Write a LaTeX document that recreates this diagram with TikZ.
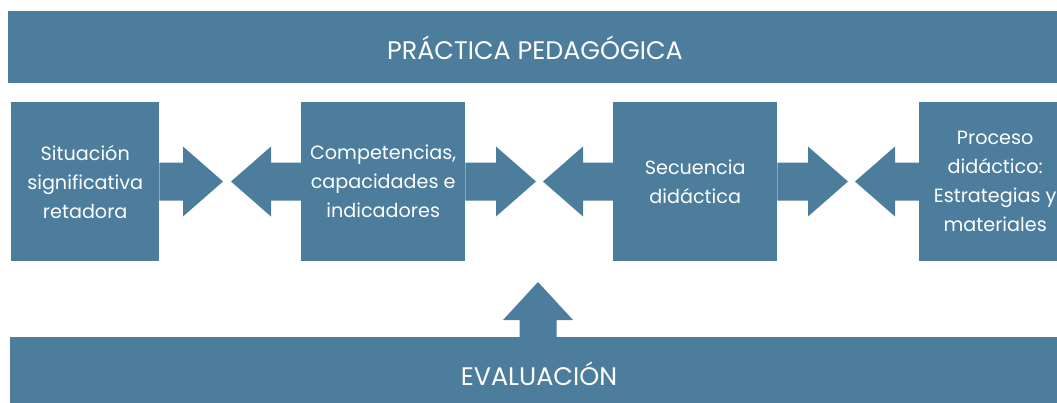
\documentclass[tikz,border=0pt]{standalone}
\usepackage{fontspec}
\setmainfont{Poppins}
\usetikzlibrary{calc}
\definecolor{barc}{HTML}{4C7D9C}
\tikzset{
  boxst/.style={fill=barc, text=white, anchor=north west, inner sep=0pt,
    minimum width=164pt, minimum height=159pt, align=center,
    font=\fontsize{19.2}{29}\selectfont},
  barst/.style={fill=barc, text=white, anchor=north west, inner sep=0pt,
    minimum width=1060pt, align=center},
  lbl/.style={text=white, inner sep=0pt, font=\fontsize{25.4}{28}\selectfont}
}
\newcommand\myrarrow[2]{\fill[barc] ($(#1)+(0,-19)$) -- ($(#2)+(-40,-19)$) -- ($(#2)+(-40,-35)$) -- (#2) -- ($(#2)+(-40,35)$) -- ($(#2)+(-40,19)$) -- ($(#1)+(0,19)$) -- cycle;}
\newcommand\mylarrow[2]{\fill[barc] ($(#1)+(0,-19)$) -- ($(#2)+(40,-19)$) -- ($(#2)+(40,-35)$) -- (#2) -- ($(#2)+(40,35)$) -- ($(#2)+(40,19)$) -- ($(#1)+(0,19)$) -- cycle;}
\begin{document}
\begin{tikzpicture}[x=1pt,y=-1pt]
\useasboundingbox (0,0) rectangle (1057,402);
\clip (0,0) rectangle (1057,402);
% bars
\node[barst, minimum height=72pt] (top) at (8,11) {};
\node[lbl] (toplbl) at (535,48) {PRÁCTICA PEDAGÓGICA};
\node[barst, minimum height=70pt] (bot) at (10,337) {};
\node[lbl] (botlbl) at (539,374) {EVALUACIÓN};
% boxes
\node[boxst, minimum width=148pt] (b1) at (11,102) {Situación\\significativa\\retadora};
\node[boxst] (b2) at (301,102) {Competencias,\\capacidades e\\indicadores};
\node[boxst] (b3) at (613,102) {Secuencia\\didáctica};
\node[boxst, minimum width=152pt] (b4) at (919,102) {Proceso\\didáctico:\\Estrategias y\\materiales};
% arrow tips
\coordinate (t1) at (223,181.5);
\coordinate (t2) at (231,181.5);
\coordinate (t3) at (536,181.5);
\coordinate (t4) at (543,181.5);
\coordinate (t5) at (848,181.5);
\coordinate (t6) at (855,181.5);
\coordinate (bs) at (538,337);
\coordinate (tu) at (538,282);
\myrarrow{b1.east}{t1}
\mylarrow{b2.west}{t2}
\myrarrow{b2.east}{t3}
\mylarrow{b3.west}{t4}
\myrarrow{b3.east}{t5}
\mylarrow{b4.west}{t6}
\fill[barc] ($(bs)+(-18.5,0)$) -- ($(tu)+(-18.5,38)$) -- ($(tu)+(-35,38)$) -- (tu) -- ($(tu)+(35,38)$) -- ($(tu)+(18.5,38)$) -- ($(bs)+(18.5,0)$) -- cycle;
\end{tikzpicture}
\end{document}
